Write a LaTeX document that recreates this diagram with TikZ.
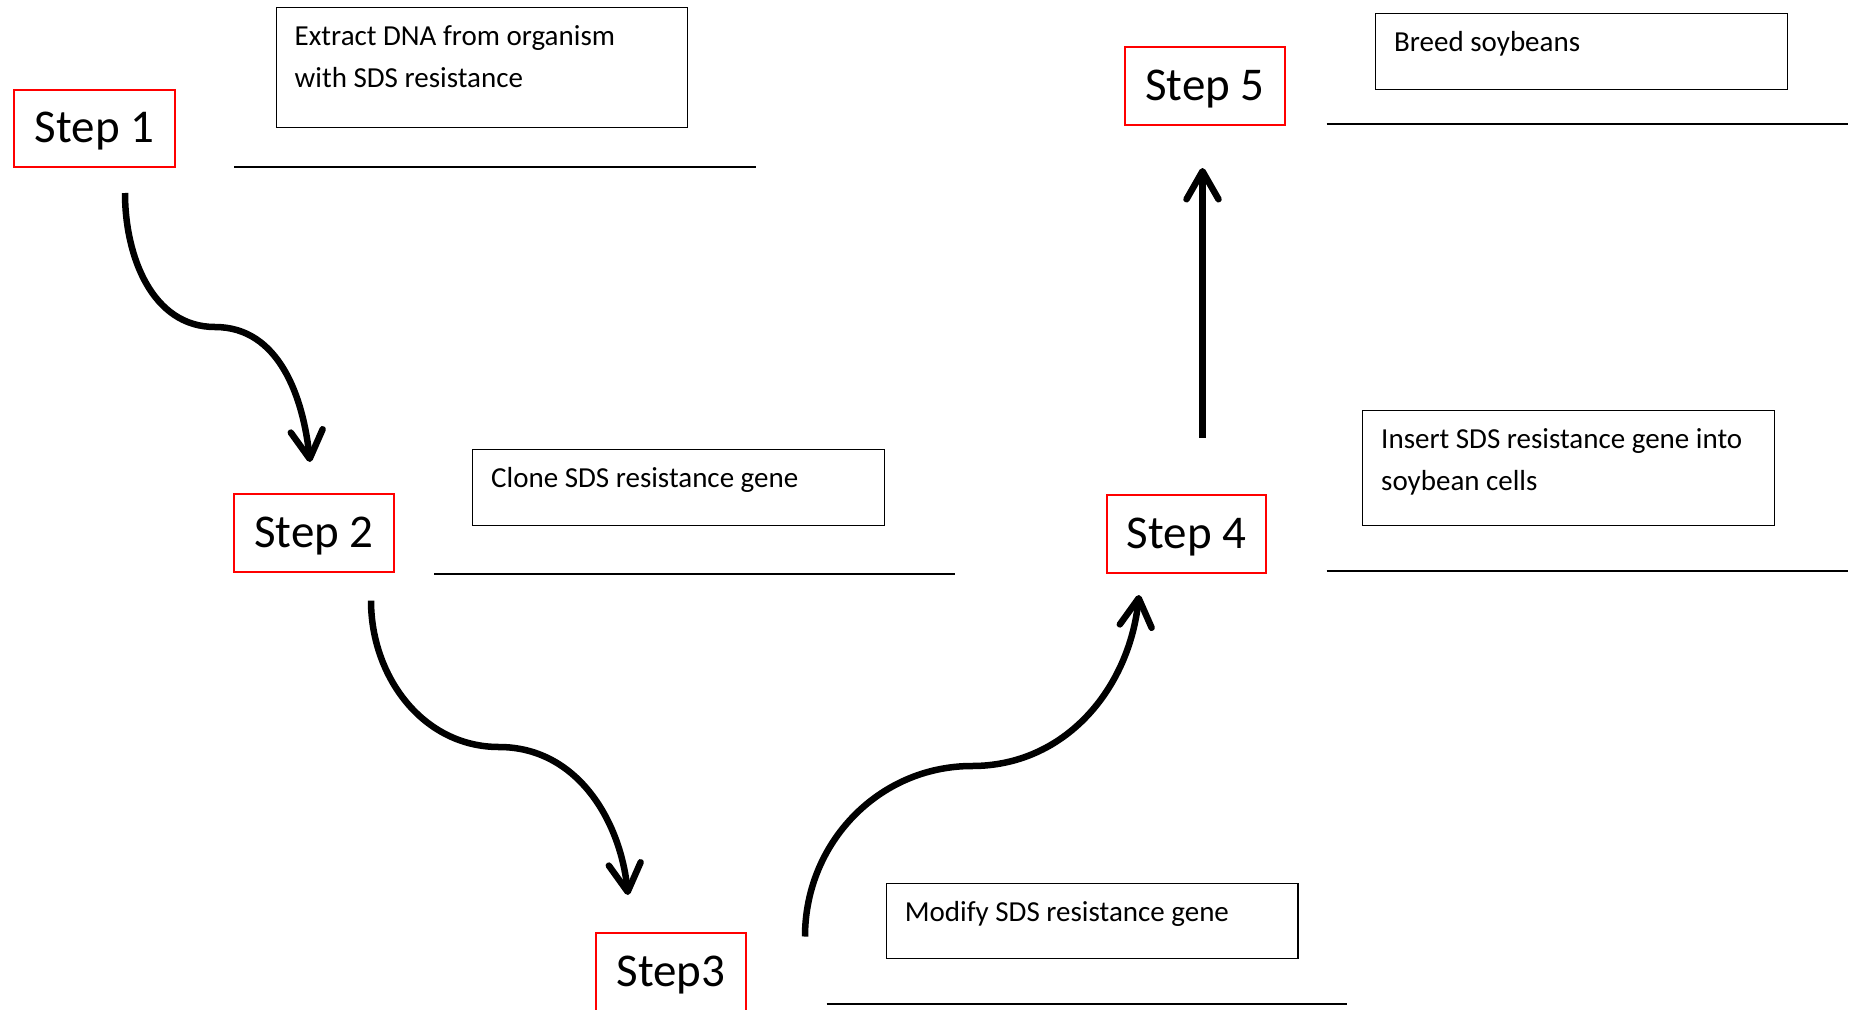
\documentclass[tikz,border=0pt]{standalone}
\usepackage{fontspec}
\setmainfont{Carlito}
\usetikzlibrary{arrows.meta}
\begin{document}
\begin{tikzpicture}[x=1pt,y=1pt,
  stepbox/.style={draw=red, line width=1.6pt, minimum width=160pt, minimum height=78pt, inner sep=0pt, text height=40pt, text depth=12pt, font=\fontsize{47}{56}\selectfont},
  textbox/.style={draw=black, line width=1.4pt, anchor=north west, inner sep=0pt},
  boxtext/.style={anchor=base west, inner sep=0pt, font=\fontsize{29}{41.5}\selectfont},
  flow/.style={line width=6.5pt, -{Straight Barb[round,length=28pt,width=32pt]}},
  blankline/.style={line width=2pt}
]
\useasboundingbox (0,0) rectangle (1854,-1009);

% step boxes
\node[stepbox, minimum width=161pt, minimum height=77pt] (s1) at (94.5,-128.5) {Step 1};
\node[stepbox] (s2) at (314,-533) {Step 2};
\node[stepbox, minimum width=150pt] (s3) at (671,-972) {Step3};
\node[stepbox, minimum width=159pt] (s4) at (1186.5,-534) {Step 4};
\node[stepbox] (s5) at (1205,-86) {Step 5};

% text boxes
\node[textbox, minimum width=411.5pt, minimum height=119.5pt] (b1) at (275.5,-7) {};
\node[boxtext] (t1) at ([xshift=19pt,yshift=-38.5pt]b1.north west) {\begin{tabular}[t]{@{}l@{}}Extract DNA from organism\\with SDS resistance\end{tabular}};
\node[textbox, minimum width=412pt, minimum height=76pt] (b2) at (472,-449) {};
\node[boxtext] (t2) at ([xshift=19pt,yshift=-38.5pt]b2.north west) {Clone SDS resistance gene};
\node[textbox, minimum width=411.5pt, minimum height=75pt] (b3) at (885.6,-883) {};
\node[boxtext] (t3) at ([xshift=19pt,yshift=-38.5pt]b3.north west) {Modify SDS resistance gene};
\node[textbox, minimum width=412pt, minimum height=115pt] (b4) at (1362,-410) {};
\node[boxtext] (t4) at ([xshift=19pt,yshift=-38.5pt]b4.north west) {\begin{tabular}[t]{@{}l@{}}Insert SDS resistance gene into\\soybean cells\end{tabular}};
\node[textbox, minimum width=411.5pt, minimum height=75.7pt] (b5) at (1375,-13) {};
\node[boxtext] (t5) at ([xshift=19pt,yshift=-38.5pt]b5.north west) {Breed soybeans};

% answer lines
\draw[blankline] (234,-166.7) -- (755.5,-166.7);
\draw[blankline] (434,-573.5) -- (955,-573.5);
\draw[blankline] (826.5,-1004) -- (1347,-1004);
\draw[blankline] (1326.6,-571) -- (1848,-571);
\draw[blankline] (1326.6,-124) -- (1848,-124);

% arrow end points
\coordinate (a1s) at (125,-193);
\coordinate (a1m) at (215,-327);
\coordinate (a1e) at (310,-462);
\coordinate (a2s) at (371,-600.6);
\coordinate (a2m) at (499,-747);
\coordinate (a2e) at (628,-895);
\coordinate (a3s) at (805,-936.5);
\coordinate (a3m) at (972,-766);
\coordinate (a3e) at (1139,-595);
\coordinate (a4s) at (1202.5,-437.5);
\coordinate (a4e) at (1202.5,-168);

\draw[flow] (a1s) to[out=-90,in=180] (a1m) to[out=0,in=96] (a1e);
\draw[flow] (a2s) to[out=-90,in=180] (a2m) to[out=0,in=96] (a2e);
\draw[flow] (a3s) to[out=90,in=180] (a3m) to[out=0,in=-96] (a3e);
\draw[flow] (a4s) -- (a4e);
\end{tikzpicture}
\end{document}
